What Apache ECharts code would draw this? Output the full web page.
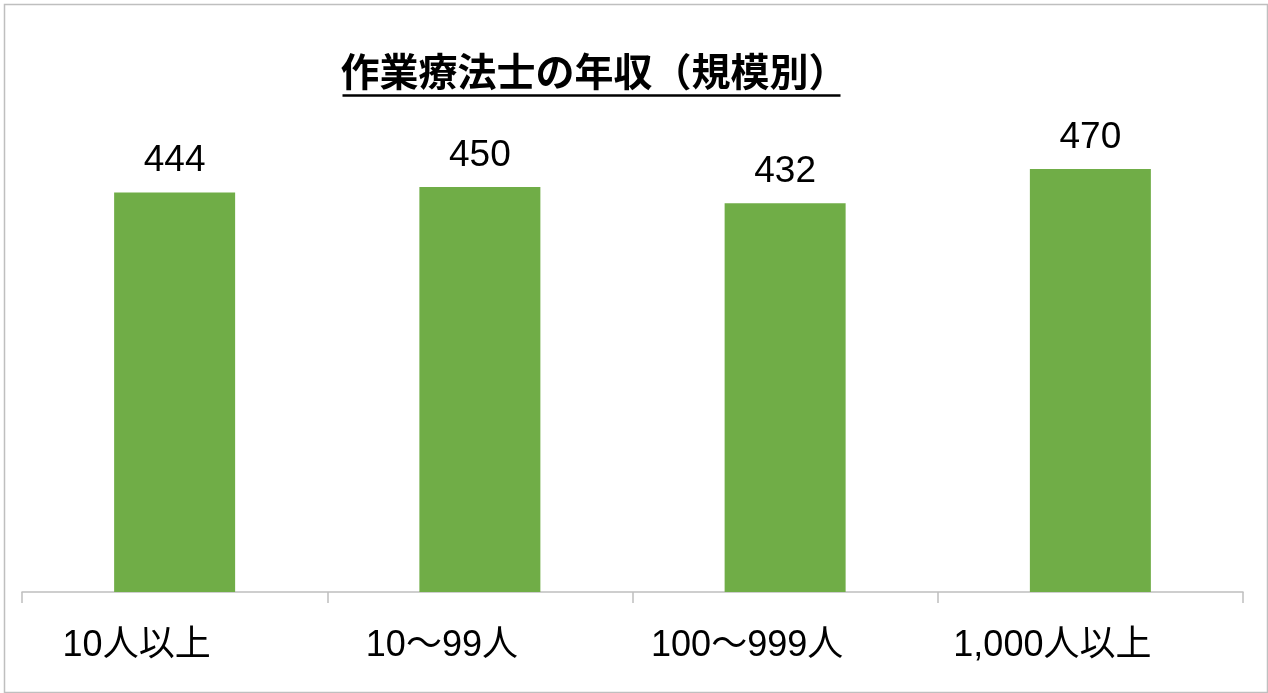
<!DOCTYPE html>
<html>
<head>
<meta charset="utf-8">
<script src="https://cdn.jsdelivr.net/npm/echarts@6/dist/echarts.min.js"></script>
<style>
html,body{margin:0;padding:0;background:#fff;}
#main{width:1268px;height:693px;box-sizing:border-box;}
</style>
</head>
<body>
<div id="main"></div>
<script>
const titleText = '作業療法士の年収（規模別）';
const categories = ['10人以上', '10～99人', '100～999人', '1,000人以上'];
const values = [444, 450, 432, 470];

const FONT = "'Liberation Sans', 'Noto Sans CJK JP', sans-serif";
const chart = echarts.init(document.getElementById('main'));
chart.setOption({
  backgroundColor: '#ffffff',
  animation: false,
  title: {
    text: titleText,
    left: 589,
    top: 47,
    textAlign: 'center',
    textStyle: { fontFamily: "'Noto Sans CJK JP', sans-serif", fontSize: 39, fontWeight: 'bold', color: '#000' }
  },
  graphic: [
    { type: 'rect', left: 2, top: 2, shape: { width: 1263, height: 688 }, style: { fill: 'none', stroke: '#BFBFBF', lineWidth: 1.5 } },
    { type: 'line', left: 340, top: 93, shape: { x1: 0, y1: 0, x2: 498, y2: 0 }, style: { stroke: '#000', lineWidth: 2.5 } }
  ],
  grid: { left: 22, right: 25, top: 142, bottom: 101, containLabel: false },
  xAxis: {
    type: 'category',
    data: categories,
    axisLine: { lineStyle: { color: '#BFBFBF', width: 1.5 } },
    axisTick: { show: true, length: 11, lineStyle: { color: '#BFBFBF', width: 1.5 } },
    axisLabel: { margin: 36, fontSize: 36, color: '#000', fontFamily: FONT, padding: [0, 76, 0, 0] }
  },
  yAxis: { type: 'value', min: 0, max: 500, show: false, splitLine: { show: false } },
  series: [{
    type: 'bar',
    data: values,
    barWidth: 121,
    itemStyle: { color: '#70AD47' },
    label: { show: true, position: 'top', distance: 13, fontSize: 37, color: '#000', fontFamily: FONT }
  }]
});
</script>
</body>
</html>
